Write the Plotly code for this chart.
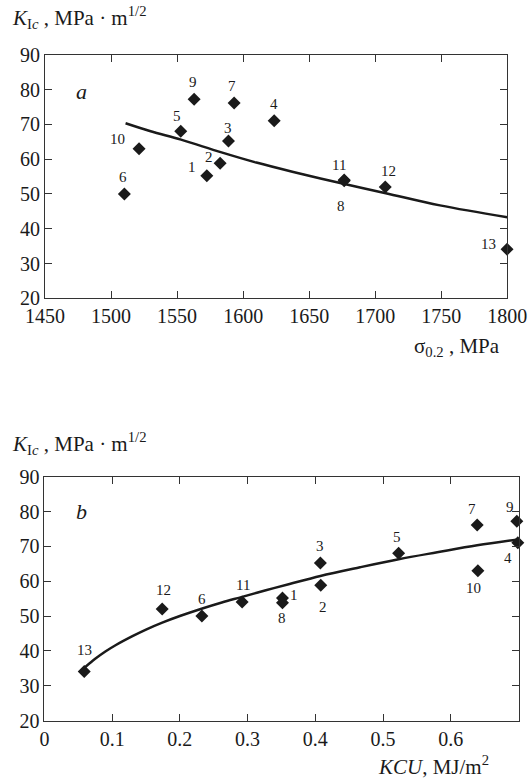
import plotly.graph_objects as go

# ---- data ----
sample_ids = ["1", "2", "3", "4", "5", "6", "7", "8", "9", "10", "11", "12", "13"]
k_ic = [55.2, 58.8, 65.2, 71.0, 68.0, 50.0, 76.1, 53.8, 77.2, 63.0, 54.0, 52.0, 34.1]
sigma_02 = [1572.5, 1582.6, 1588.9, 1623.5, 1552.8, 1510.1, 1593.2, 1676.5,
            1562.9, 1521.2, 1676.5, 1707.6, 1799.8]
kcu = [0.3515, 0.408, 0.4075, 0.699, 0.523, 0.2325, 0.639, 0.3515,
       0.6975, 0.640, 0.2919, 0.1739, 0.0588]

fit_a_x = [1511, 1530, 1553, 1583, 1610, 1638, 1676, 1708, 1749, 1800]
fit_a_y = [70.3, 68.0, 65.6, 62.0, 59.0, 56.3, 52.9, 50.2, 46.7, 43.3]
fit_b_x = [0.06, 0.075, 0.09, 0.105, 0.13, 0.15, 0.174, 0.2, 0.232, 0.262, 0.292, 0.327,
           0.362, 0.4075, 0.466, 0.523, 0.58, 0.639, 0.699]
fit_b_y = [35.3, 37.7, 39.8, 41.6, 44.2, 46.1, 48.1, 50.0, 52.1, 53.9, 55.5, 57.4,
           59.2, 61.5, 64.0, 66.3, 68.3, 70.3, 72.0]

x_a_ticks = [1450, 1500, 1550, 1600, 1650, 1700, 1750, 1800]
x_b_ticks = [0, 0.1, 0.2, 0.3, 0.4, 0.5, 0.6, 0.7]
x_b_ticktext = ["0", "0.1", "0.2", "0.3", "0.4", "0.5", "0.6", "0.7"]
y_ticks = [20, 30, 40, 50, 60, 70, 80, 90]

# label offsets in pixels (style only): (dx, dy_down)
off_a = {"1": (-15, -9), "2": (-11, -6), "3": (0, -13), "4": (0, -17), "5": (-4, -15),
         "6": (-1, -17), "7": (-2, -17), "8": (-3, 25), "9": (-1, -17), "10": (-22, -10),
         "11": (-5, -15), "12": (3, -16), "13": (-19, -5)}
off_b = {"1": (12, -3), "2": (2, 22), "3": (0, -17), "4": (-10, 15), "5": (-2, -16),
         "6": (0, -17), "7": (-5, -16), "8": (0, 15), "9": (-7, -14), "10": (-4, 17),
         "11": (1, -17), "12": (1, -19), "13": (0, -21)}

W, H = 530, 782
FONT = "Liberation Serif"
INK = "#1a1a1a"

fig = go.Figure()

mk = dict(symbol="diamond", size=10, color=INK, line=dict(width=0))

fig.add_trace(go.Scatter(x=fit_a_x, y=fit_a_y, mode="lines", line=dict(color=INK, width=2.5, shape="spline"),
                         xaxis="x", yaxis="y", showlegend=False, hoverinfo="skip"))
fig.add_trace(go.Scatter(x=sigma_02, y=k_ic, mode="markers", marker=mk, cliponaxis=False,
                         xaxis="x", yaxis="y", showlegend=False))
fig.add_trace(go.Scatter(x=fit_b_x, y=fit_b_y, mode="lines", line=dict(color=INK, width=2.5, shape="spline"),
                         xaxis="x2", yaxis="y2", showlegend=False, hoverinfo="skip"))
fig.add_trace(go.Scatter(x=kcu, y=k_ic, mode="markers", marker=mk, cliponaxis=False,
                         xaxis="x2", yaxis="y2", showlegend=False))

ann = []
for sid, xv, yv in zip(sample_ids, sigma_02, k_ic):
    dx, dy = off_a[sid]
    ann.append(dict(x=xv, y=yv, xref="x", yref="y", text=sid, showarrow=False,
                    xshift=dx, yshift=-dy, font=dict(family=FONT, size=15, color=INK)))
for sid, xv, yv in zip(sample_ids, kcu, k_ic):
    dx, dy = off_b[sid]
    ann.append(dict(x=xv, y=yv, xref="x2", yref="y2", text=sid, showarrow=False,
                    xshift=dx, yshift=-dy, font=dict(family=FONT, size=15, color=INK)))

ytitle = "<i>K</i><sub>I<i>c</i></sub> , MPa · m<sup>1/2</sup>"
ann += [
    dict(x=1478, y=79.4, xref="x", yref="y", text="<i>a</i>", showarrow=False,
         font=dict(family=FONT, size=22, color=INK)),
    dict(x=0.055, y=80.0, xref="x2", yref="y2", text="<i>b</i>", showarrow=False,
         font=dict(family=FONT, size=22, color=INK)),
    dict(x=10 / W, y=1 - 18 / H, xref="paper", yref="paper", text=ytitle, showarrow=False,
         xanchor="left", yanchor="middle", font=dict(family=FONT, size=21, color=INK)),
    dict(x=10 / W, y=1 - 443 / H, xref="paper", yref="paper", text=ytitle, showarrow=False,
         xanchor="left", yanchor="middle", font=dict(family=FONT, size=21, color=INK)),
    dict(x=502 / W, y=1 - 347 / H, xref="paper", yref="paper", text="σ<sub>0.2</sub> , MPa",
         showarrow=False, xanchor="right", yanchor="middle", font=dict(family=FONT, size=21, color=INK)),
    dict(x=491 / W, y=1 - 765 / H, xref="paper", yref="paper", text="<i>KCU</i>, MJ/m<sup>2</sup>",
         showarrow=False, xanchor="right", yanchor="middle", font=dict(family=FONT, size=21, color=INK)),
]

axis_common = dict(showline=True, linecolor="#333", linewidth=1, mirror="ticks", ticks="inside",
                   ticklen=7, tickcolor="#333", tickwidth=1, showgrid=False, zeroline=False,
                   automargin=False, tickfont=dict(family=FONT, size=20, color=INK))

fig.update_layout(
    width=W, height=H, margin=dict(l=0, r=0, t=0, b=0, autoexpand=False),
    paper_bgcolor="white", plot_bgcolor="white",
    xaxis=dict(domain=[45 / W, 507.3 / W], range=[1450, 1800], tickvals=x_a_ticks, anchor="y", **axis_common),
    yaxis=dict(domain=[1 - 298.3 / H, 1 - 54.7 / H], range=[20, 90], tickvals=y_ticks, anchor="x", **axis_common),
    xaxis2=dict(domain=[44.4 / W, 518.5 / W], range=[0, 0.7], tickvals=x_b_ticks, ticktext=x_b_ticktext,
                anchor="y2", **axis_common),
    yaxis2=dict(domain=[1 - 720.5 / H, 1 - 476.7 / H], range=[20, 90], tickvals=y_ticks, anchor="x2", **axis_common),
    annotations=ann,
)

fig.write_html("out.html", config={"displayModeBar": False},
               post_script="document.body.style.margin='0';document.body.style.overflow='hidden';")
